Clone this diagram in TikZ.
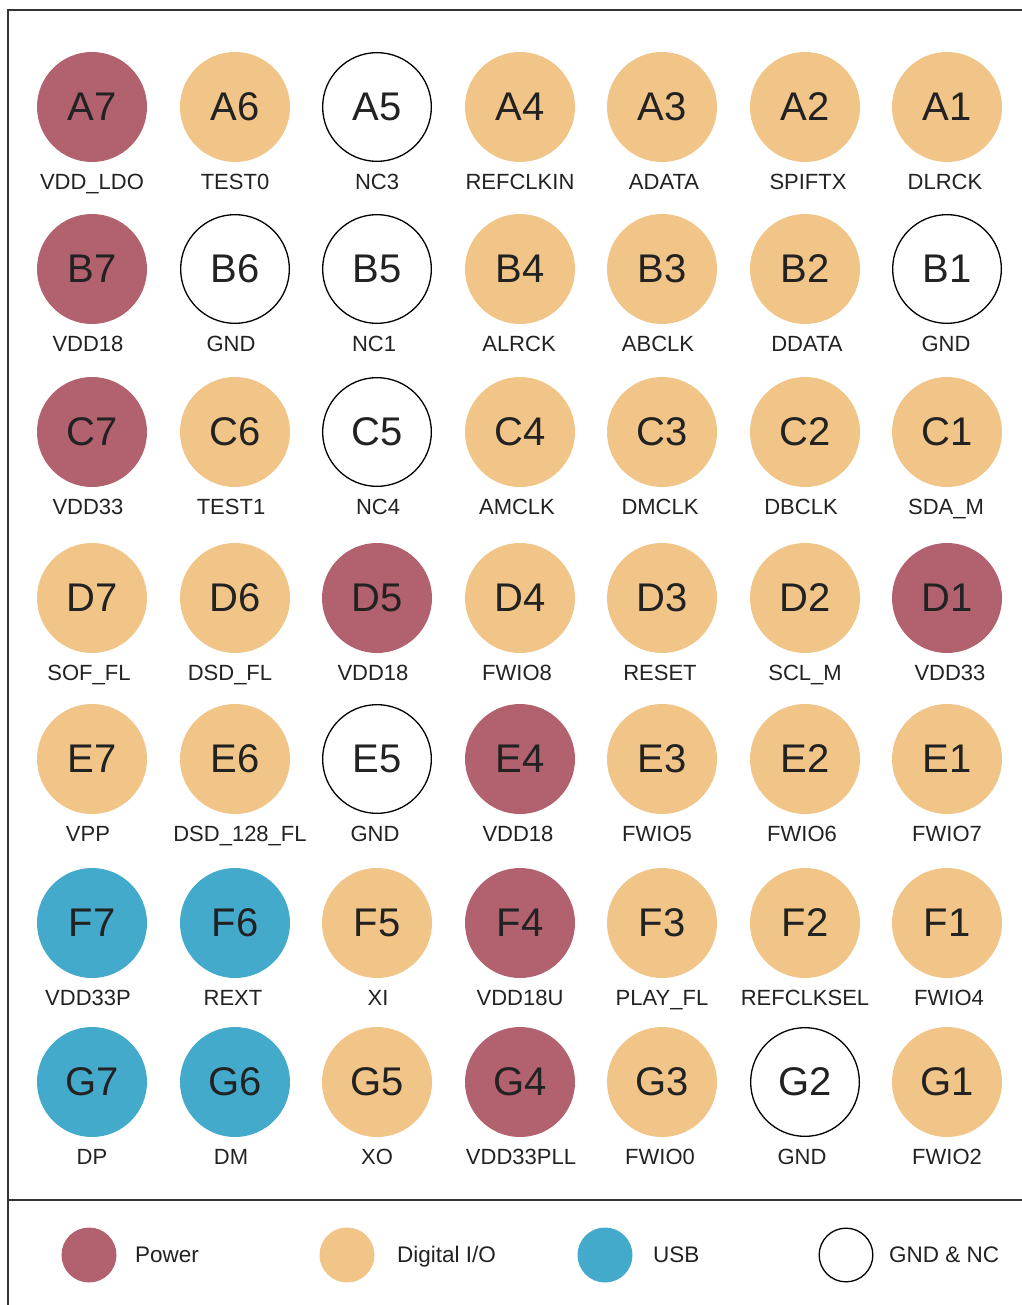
\documentclass[tikz,border=0pt]{standalone}
\usepackage{fontspec}
\setmainfont{Liberation Sans}
\definecolor{pwrc}{HTML}{B2616F}
\definecolor{dioc}{HTML}{F1C487}
\definecolor{usbc}{HTML}{44AACC}
\definecolor{txtc}{HTML}{222222}
\definecolor{framec}{HTML}{333333}
\tikzset{
  pinbase/.style={circle, minimum size=110pt, inner sep=0pt, text=txtc, font=\fontsize{40}{40}\selectfont},
  pwr/.style={pinbase, fill=pwrc},
  dio/.style={pinbase, fill=dioc},
  usb/.style={pinbase, fill=usbc},
  nc/.style={pinbase, draw=black, line width=1.3pt, minimum size=108.7pt, fill=white},
  lbl/.style={text=txtc, font=\fontsize{22}{22}\selectfont, inner sep=0pt, anchor=base},
  legc/.style={circle, minimum size=55pt, inner sep=0pt},
  legt/.style={text=txtc, font=\fontsize{22.5}{22.5}\selectfont, anchor=base west, inner sep=0pt},
  frame/.style={draw=framec, line width=2pt}
}
\begin{document}
\begin{tikzpicture}[x=1pt,y=-1pt]
\useasboundingbox (0,0) rectangle (1021,1305);
\fill[white] (0,0) rectangle (1021,1305);
% frame
\coordinate (ftl) at (8,10);
\coordinate (ftr) at (1025,10);
\coordinate (fbl) at (8,1310);
\coordinate (dl) at (8,1200);
\coordinate (dr) at (1025,1200);
\draw[frame] (ftr) -- (ftl) -- (fbl);
\draw[frame] (dl) -- (dr);
% row A
\foreach \c/\xx/\lx/\st/\lab in {7/92/92/pwr/VDD\_LDO, 6/235/235/dio/TEST0, 5/377/377/nc/NC3, 4/520/520/dio/REFCLKIN, 3/662/664/dio/ADATA, 2/805/808/dio/SPIFTX, 1/947/945/dio/DLRCK}
  { \node[\st] (A\c) at (\xx,107) {A\c}; \node[lbl] (lA\c) at (\lx,189.5) {\lab}; }
% row B
\foreach \c/\xx/\lx/\st/\lab in {7/92/88/pwr/VDD18, 6/235/231/nc/GND, 5/377/374/nc/NC1, 4/520/519/dio/ALRCK, 3/662/658/dio/ABCLK, 2/805/807/dio/DDATA, 1/947/946/nc/GND}
  { \node[\st] (B\c) at (\xx,269) {B\c}; \node[lbl] (lB\c) at (\lx,351.5) {\lab}; }
% row C
\foreach \c/\xx/\lx/\st/\lab in {7/92/88/pwr/VDD33, 6/235/231/dio/TEST1, 5/377/378/nc/NC4, 4/520/517/dio/AMCLK, 3/662/660/dio/DMCLK, 2/805/801/dio/DBCLK, 1/947/946/dio/SDA\_M}
  { \node[\st] (C\c) at (\xx,432) {C\c}; \node[lbl] (lC\c) at (\lx,514.5) {\lab}; }
% row D
\foreach \c/\xx/\lx/\st/\lab in {7/92/89/dio/SOF\_FL, 6/235/230/dio/DSD\_FL, 5/377/373/pwr/VDD18, 4/520/517/dio/FWIO8, 3/662/660/dio/RESET, 2/805/805/dio/SCL\_M, 1/947/950/pwr/VDD33}
  { \node[\st] (D\c) at (\xx,598) {D\c}; \node[lbl] (lD\c) at (\lx,680.5) {\lab}; }
% row E
\foreach \c/\xx/\lx/\st/\lab in {7/92/88/dio/VPP, 6/235/240/dio/DSD\_128\_FL, 5/377/375/nc/GND, 4/520/518/pwr/VDD18, 3/662/657/dio/FWIO5, 2/805/802/dio/FWIO6, 1/947/947/dio/FWIO7}
  { \node[\st] (E\c) at (\xx,759) {E\c}; \node[lbl] (lE\c) at (\lx,841.5) {\lab}; }
% row F
\foreach \c/\xx/\lx/\st/\lab in {7/92/88/usb/VDD33P, 6/235/233/usb/REXT, 5/377/378/dio/XI, 4/520/520/pwr/VDD18U, 3/662/662/dio/PLAY\_FL, 2/805/805/dio/REFCLKSEL, 1/947/949/dio/FWIO4}
  { \node[\st] (F\c) at (\xx,923) {F\c}; \node[lbl] (lF\c) at (\lx,1005.5) {\lab}; }
% row G
\foreach \c/\xx/\lx/\st/\lab in {7/92/92/usb/DP, 6/235/231/usb/DM, 5/377/377/dio/XO, 4/520/521/pwr/VDD33PLL, 3/662/660/dio/FWIO0, 2/805/802/nc/GND, 1/947/947/dio/FWIO2}
  { \node[\st] (G\c) at (\xx,1082) {G\c}; \node[lbl] (lG\c) at (\lx,1164.5) {\lab}; }
% legend
\node[legc, fill=pwrc] (legP) at (89,1255) {};
\node[legt] (legPt) at (135,1262.5) {Power};
\node[legc, fill=dioc] (legD) at (347,1255) {};
\node[legt] (legDt) at (397,1262.5) {Digital I/O};
\node[legc, fill=usbc] (legU) at (605,1255) {};
\node[legt] (legUt) at (653,1262.5) {USB};
\node[legc, draw=black, line width=1.3pt, minimum size=53.7pt] (legN) at (846,1255) {};
\node[legt] (legNt) at (889,1262.5) {GND \& NC};
\end{tikzpicture}
\end{document}
